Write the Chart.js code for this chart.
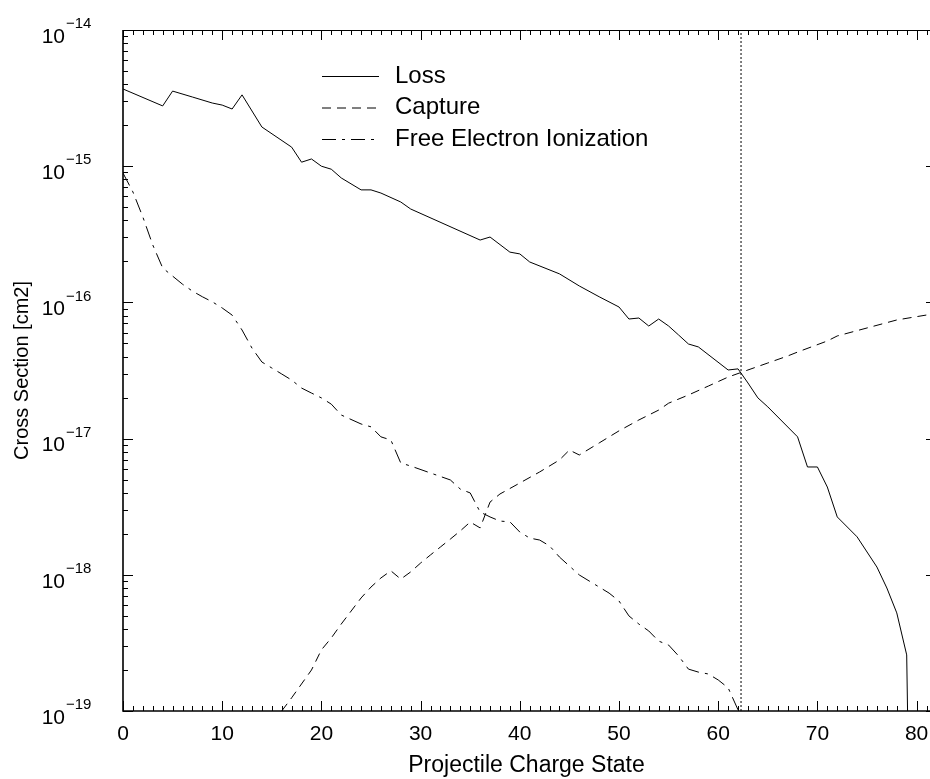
<!DOCTYPE html>
<html>
<head>
<meta charset="utf-8">
<script src="https://cdn.jsdelivr.net/npm/chart.js@4.4.0/dist/chart.umd.min.js"></script>
<style>
    body { margin: 0; background: #fff; }
    canvas { display: block; }
</style>
</head>
<body>
<canvas id="crossSection" width="930" height="779"></canvas>
<script>
const lossX = [0, 4, 5, 7, 9, 10, 11, 12, 14, 17, 18, 19, 20, 21, 22, 24, 25, 26, 28, 29, 36, 37, 39, 40, 41, 44, 46, 48, 50, 51, 52, 53, 54, 55, 56, 57, 58, 61, 62, 63, 64, 65, 68, 69, 70, 71, 72, 74, 76, 77, 78, 79, 79.3];
const lossY = [3.69e-15, 2.77e-15, 3.56e-15, 3.22e-15, 2.91e-15, 2.81e-15, 2.63e-15, 3.34e-15, 1.94e-15, 1.38e-15, 1.07e-15, 1.13e-15, 1.0e-15, 9.5e-16, 8.2e-16, 6.7e-16, 6.7e-16, 6.35e-16, 5.46e-16, 4.85e-16, 2.87e-16, 3.02e-16, 2.34e-16, 2.27e-16, 1.98e-16, 1.62e-16, 1.32e-16, 1.10e-16, 9.25e-17, 7.55e-17, 7.68e-17, 6.71e-17, 7.55e-17, 6.71e-17, 5.77e-17, 4.95e-17, 4.71e-17, 3.19e-17, 3.25e-17, 2.56e-17, 1.99e-17, 1.71e-17, 1.03e-17, 6.19e-18, 6.19e-18, 4.41e-18, 2.66e-18, 1.90e-18, 1.14e-18, 8.0e-19, 5.25e-19, 2.58e-19, 1e-20];

const captureX = [16, 17, 19, 20, 21, 22, 23, 24, 25, 26, 27, 28, 29, 30, 31, 32, 33, 34, 35, 36, 37, 38, 40, 42, 44, 45, 46, 48, 50, 52, 54, 55, 57, 59, 61, 63, 65, 67, 68, 71, 72, 75, 78, 81];
const captureY = [1.0e-19, 1.25e-19, 2.0e-19, 2.81e-19, 3.44e-19, 4.35e-19, 5.42e-19, 6.76e-19, 8.13e-19, 9.48e-19, 1.07e-18, 9.3e-19, 1.05e-18, 1.22e-18, 1.40e-18, 1.60e-18, 1.83e-18, 2.10e-18, 2.44e-18, 2.21e-18, 3.42e-18, 3.92e-18, 4.72e-18, 5.69e-18, 6.97e-18, 8.24e-18, 7.58e-18, 9.29e-18, 1.14e-17, 1.37e-17, 1.62e-17, 1.82e-17, 2.09e-17, 2.43e-17, 2.83e-17, 3.19e-17, 3.59e-17, 4.04e-17, 4.32e-17, 5.21e-17, 5.67e-17, 6.49e-17, 7.43e-17, 8.08e-17];

const feiX = [0, 1, 2, 3, 4, 5, 6, 7, 8, 9, 10, 11, 12, 13, 14, 15, 16, 17, 18, 19, 20, 21, 22, 24, 25, 26, 27, 28, 29, 31, 33, 34, 35, 36, 37, 38, 39, 40, 41, 42, 43, 44, 45, 46, 47, 48, 49, 50, 51, 52, 53, 54, 55, 56, 57, 58, 59, 60, 61, 62, 63];
const feiY = [8.9e-16, 6.47e-16, 4.24e-16, 2.64e-16, 1.79e-16, 1.56e-16, 1.36e-16, 1.21e-16, 1.10e-16, 1.01e-16, 9.1e-17, 8.07e-17, 6.27e-17, 4.62e-17, 3.65e-17, 3.30e-17, 2.98e-17, 2.69e-17, 2.35e-17, 2.16e-17, 1.99e-17, 1.79e-17, 1.49e-17, 1.28e-17, 1.22e-17, 1.03e-17, 9.77e-18, 6.62e-18, 6.29e-18, 5.59e-18, 4.97e-18, 4.26e-18, 3.99e-18, 2.89e-18, 2.66e-18, 2.48e-18, 2.45e-18, 2.06e-18, 1.86e-18, 1.80e-18, 1.63e-18, 1.35e-18, 1.16e-18, 9.97e-19, 9.0e-19, 8.13e-19, 7.34e-19, 6.42e-19, 4.99e-19, 4.35e-19, 3.87e-19, 3.26e-19, 3.05e-19, 2.54e-19, 2.03e-19, 1.93e-19, 1.87e-19, 1.69e-19, 1.48e-19, 1.02e-19, 3e-20];

const markerX = 62.3;
const xTicks = [0, 10, 20, 30, 40, 50, 60, 70, 80];
const yExponents = [-14, -15, -16, -17, -18, -19];
const seriesNames = ["Loss", "Capture", "Free Electron Ionization"];

const FONT = "'Liberation Sans', Arial, sans-serif";

function toPoints(xs, ys) {
    return xs.map((x, i) => ({ x: x, y: ys[i] }));
}

// axes, ticks and labels drawn by hand so ticks point inward like the original
const frame = {
    id: "frame",
    afterDraw(chart) {
        const ctx = chart.ctx;
        const area = chart.chartArea;
        const xs = chart.scales.x;
        const ys = chart.scales.y;

        ctx.save();
        ctx.strokeStyle = "#000";
        ctx.lineWidth = 1;

        ctx.beginPath();
        for (let v = 0; v <= 81; v++) {
            const px = Math.round(xs.getPixelForValue(v)) + 0.5;
            const len = v % 10 === 0 ? 10 : 5;
            ctx.moveTo(px, area.bottom);
            ctx.lineTo(px, area.bottom - len);
            ctx.moveTo(px, area.top);
            ctx.lineTo(px, area.top + len);
        }
        for (let e = -19; e < -14; e++) {
            for (let m = 1; m <= 9; m++) {
                const py = Math.round(ys.getPixelForValue(m * Math.pow(10, e))) + 0.5;
                const len = m === 1 ? 10 : 5;
                ctx.moveTo(area.left, py);
                ctx.lineTo(area.left + len, py);
                if (m === 1) {
                    ctx.moveTo(area.right, py);
                    ctx.lineTo(area.right - 4, py);
                }
            }
        }
        ctx.stroke();

        ctx.lineWidth = 1.6;
        ctx.beginPath();
        ctx.moveTo(area.left, area.top);
        ctx.lineTo(area.left, area.bottom);
        ctx.lineTo(area.right, area.bottom);
        ctx.stroke();
        ctx.lineWidth = 1;
        ctx.beginPath();
        ctx.moveTo(area.left, area.top + 0.5);
        ctx.lineTo(area.right, area.top + 0.5);
        ctx.stroke();

        ctx.fillStyle = "#000";
        ctx.font = "21px " + FONT;
        ctx.textAlign = "center";
        ctx.textBaseline = "middle";
        xTicks.forEach((v) => {
            ctx.fillText(String(v), xs.getPixelForValue(v), area.bottom + 23);
        });
        ctx.font = "23px " + FONT;
        ctx.fillText("Projectile Charge State", (area.left + area.right) / 2, area.bottom + 55);

        yExponents.forEach((e) => {
            const py = ys.getPixelForValue(Math.pow(10, e));
            ctx.font = "21px " + FONT;
            ctx.textAlign = "right";
            ctx.fillText("10", 65, py + 7);
            ctx.font = "15px " + FONT;
            ctx.textAlign = "left";
            ctx.fillText("\u2212" + Math.abs(e), 66, py - 6);
        });

        ctx.font = "20px " + FONT;
        ctx.textAlign = "center";
        ctx.translate(22, (area.top + area.bottom) / 2);
        ctx.rotate(-Math.PI / 2);
        ctx.fillText("Cross Section [cm2]", 0, 0);
        ctx.restore();

        // legend
        ctx.save();
        ctx.strokeStyle = "#000";
        ctx.fillStyle = "#000";
        ctx.lineWidth = 1;
        ctx.font = "24px " + FONT;
        ctx.textAlign = "left";
        ctx.textBaseline = "middle";
        seriesNames.forEach((name, i) => {
            const ds = chart.data.datasets[i];
            const y = 76 + i * 31.5;
            ctx.setLineDash(ds.borderDash || []);
            ctx.beginPath();
            ctx.moveTo(322, y + 0.5);
            ctx.lineTo(379, y + 0.5);
            ctx.stroke();
            ctx.setLineDash([]);
            ctx.fillText(name, 395, y);
        });
        ctx.restore();
    },
};

new Chart(document.getElementById("crossSection"), {
    type: "line",
    data: {
        datasets: [
            {
                label: seriesNames[0],
                data: toPoints(lossX, lossY),
                borderColor: "#000",
                borderWidth: 1,
                borderDash: [],
            },
            {
                label: seriesNames[1],
                data: toPoints(captureX, captureY),
                borderColor: "#000",
                borderWidth: 1,
                borderDash: [9, 6],
            },
            {
                label: seriesNames[2],
                data: toPoints(feiX, feiY),
                borderColor: "#000",
                borderWidth: 1,
                borderDash: [14, 6, 3, 6],
            },
            {
                label: "",
                data: [
                    { x: markerX, y: 1e-19 },
                    { x: markerX, y: 1e-14 },
                ],
                borderColor: "#000",
                borderWidth: 1,
                borderDash: [2, 2],
            },
        ],
    },
    options: {
        responsive: false,
        animation: false,
        devicePixelRatio: 1,
        layout: {
            padding: { left: 123, top: 30, right: 0, bottom: 68 },
        },
        elements: {
            point: { radius: 0 },
            line: { tension: 0, fill: false },
        },
        scales: {
            x: {
                type: "linear",
                min: 0,
                max: 81.35,
                display: false,
            },
            y: {
                type: "logarithmic",
                min: 1e-19,
                max: 1e-14,
                display: false,
            },
        },
        plugins: {
            legend: { display: false },
            tooltip: { enabled: false },
        },
    },
    plugins: [frame],
});
</script>
</body>
</html>
